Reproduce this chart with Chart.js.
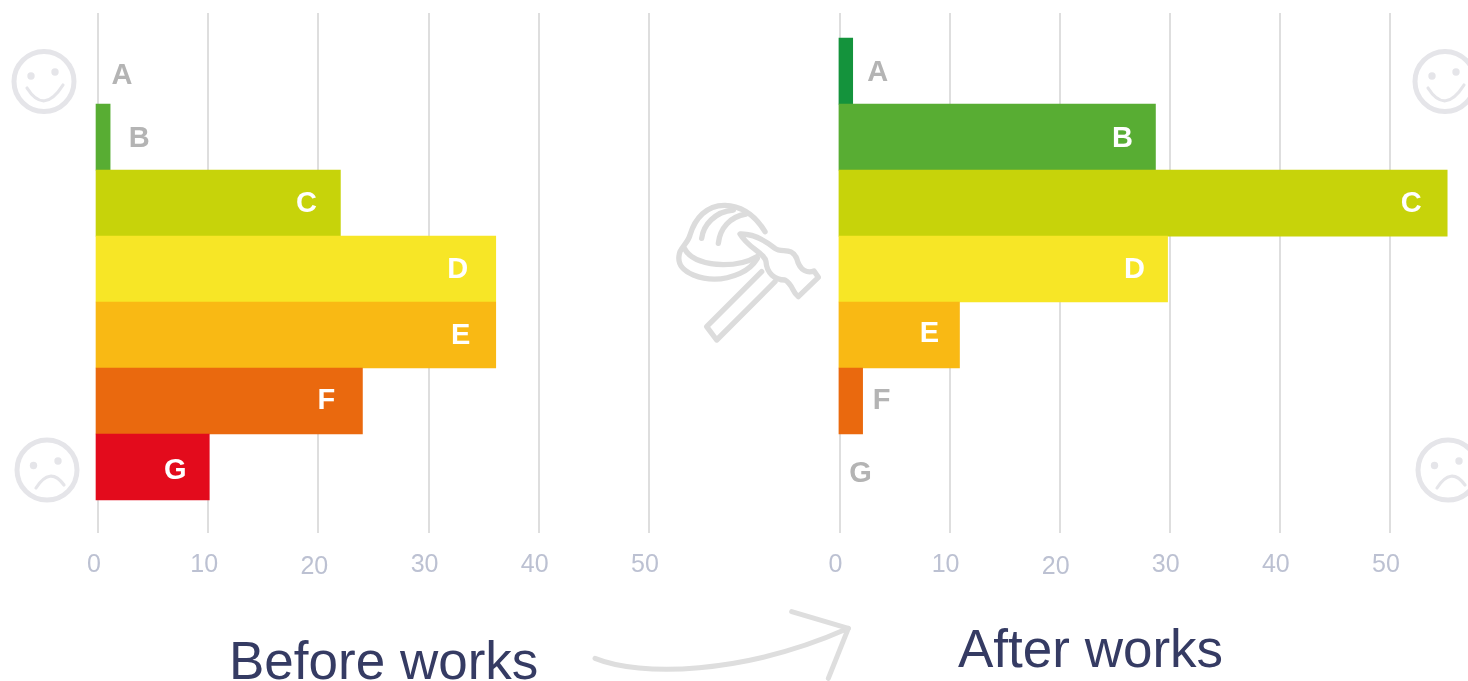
<!DOCTYPE html>
<html>
<head>
<meta charset="utf-8">
<title>Energy rating before and after works</title>
<script src="https://cdn.jsdelivr.net/npm/chart.js@4"></script>
<style>
  html, body { margin: 0; padding: 0; background: #fff; overflow: hidden; }
  body { position: relative; width: 1468px; height: 681px; font-family: "Liberation Sans", Arial, sans-serif; }
  .panel { position: absolute; top: 0; height: 610px; }
  .heading { position: absolute; font-size: 53px; line-height: 60px; color: #353b63; white-space: nowrap; }
  svg { position: absolute; overflow: visible; fill: none; stroke-linecap: round; stroke-linejoin: round; }
</style>
</head>
<body>
<!-- Happy and sad faces beside each scale -->
<svg style="left:0;top:0" width="1468" height="681" stroke="#e5e5e9" stroke-width="5">
  <g>
    <circle cx="44" cy="81.5" r="30"/>
    <circle cx="31" cy="76" r="3.7" fill="#e5e5e9" stroke="none"/>
    <circle cx="55" cy="72" r="3.7" fill="#e5e5e9" stroke="none"/>
    <path d="M27 88 Q44 115 63 85" stroke-width="3.2"/>
  </g>
  <g transform="translate(1401 0)">
    <circle cx="44" cy="81.5" r="30"/>
    <circle cx="31" cy="76" r="3.7" fill="#e5e5e9" stroke="none"/>
    <circle cx="55" cy="72" r="3.7" fill="#e5e5e9" stroke="none"/>
    <path d="M27 88 Q44 115 63 85" stroke-width="3.2"/>
  </g>
  <g>
    <circle cx="47" cy="470" r="30"/>
    <circle cx="33.5" cy="465.5" r="3.7" fill="#e5e5e9" stroke="none"/>
    <circle cx="58" cy="461" r="3.7" fill="#e5e5e9" stroke="none"/>
    <path d="M36 488 Q50 466 64 485" stroke-width="3.2"/>
  </g>
  <g transform="translate(1401 0)">
    <circle cx="47" cy="470" r="30"/>
    <circle cx="33.5" cy="465.5" r="3.7" fill="#e5e5e9" stroke="none"/>
    <circle cx="58" cy="461" r="3.7" fill="#e5e5e9" stroke="none"/>
    <path d="M36 488 Q50 466 64 485" stroke-width="3.2"/>
  </g>
</svg>

<!-- Helmet and hammer between the two panels -->
<svg style="left:660px;top:190px" width="200" height="170" viewBox="0 0 600 510" stroke="#dcdcdc" stroke-width="16">
  <path d="M315 125 C285 75 245 48 195 46 C140 45 105 85 90 135 C85 155 70 165 60 185 C50 215 60 238 100 255 C150 275 200 268 240 250 C262 240 280 225 292 205"/>
  <path d="M75 178 C90 205 130 222 190 224 C230 224 265 215 290 200"/>
  <path d="M125 145 C130 105 165 65 220 60"/>
  <path d="M175 160 C180 115 210 80 258 72"/>
  <path d="M240 132 C285 130 320 155 345 175 C365 190 395 170 410 205 C420 245 445 250 462 243 L475 262 L415 320 C395 305 400 285 375 270 C345 270 320 250 318 215 C315 190 265 175 240 132 Z"/>
  <path d="M305 245 L140 410 L170 450 L345 275"/>
</svg>

<!-- Arrow leading from the first panel to the second -->
<svg style="left:570px;top:590px" width="300" height="91" viewBox="0 0 900 273" stroke="#dedede" stroke-width="15">
  <path d="M75 205 C210 260 520 255 835 115"/>
  <path d="M665 65 L835 115 L775 265"/>
</svg>

<div class="panel" style="left:0;width:715px"><canvas id="beforeChart"></canvas></div>
<div class="panel" style="left:740px;width:716px"><canvas id="afterChart"></canvas></div>

<div class="heading" id="beforeHeading" style="left:229px;top:631px">Before works</div>
<div class="heading" id="afterHeading" style="left:958px;top:619px">After works</div>

<script>
const categories = ["A", "B", "C", "D", "E", "F", "G"];
const tickValues = [0, 10, 20, 30, 40, 50];
const beforeValues = [0, 1.1, 22, 36.1, 36.1, 24, 10.1];
const afterValues = [1.2, 28.7, 55.2, 29.8, 10.9, 2.1, 0];
const ratingColors = ["#14933c", "#58ad33", "#c7d30a", "#f7e626", "#f9b914", "#ea690e", "#e30b1c"];

// Writes each rating letter inside a long bar or just past a short one.
const ratingLetters = {
  id: "ratingLetters",
  afterDatasetsDraw(chart, args, opts) {
    const { ctx } = chart;
    const meta = chart.getDatasetMeta(0);
    ctx.save();
    ctx.font = 'bold 29px "Liberation Sans", Arial, sans-serif';
    ctx.textAlign = "center";
    ctx.textBaseline = "middle";
    meta.data.forEach((bar, i) => {
      const inside = chart.data.datasets[0].data[i].x > opts.insideFrom;
      const nudge = opts.nudges[i];
      ctx.fillStyle = inside ? "#ffffff" : "#b4b4b4";
      ctx.fillText(categories[i], bar.x + (inside ? -34 : 24) + nudge[0], bar.y + nudge[1] + 1);
    });
    ctx.restore();
  }
};

function buildChart(canvasId, values, paddingLeft, baseValue, nudges) {
  return new Chart(document.getElementById(canvasId), {
    type: "bar",
    plugins: [ratingLetters],
    data: {
      datasets: [{
        data: values.map((x, y) => ({ x, y })),
        // An empty rating class has no bar at all, only its letter.
        backgroundColor: ctx => (ctx.raw && ctx.raw.x > 0 ? ratingColors[ctx.dataIndex] : "rgba(0,0,0,0)"),
        borderWidth: 0,
        barPercentage: 1,
        categoryPercentage: 1,
        base: baseValue,
        clip: false
      }]
    },
    options: {
      indexAxis: "y",
      responsive: false,
      animation: false,
      layout: { padding: { left: paddingLeft, top: 13, right: 0, bottom: 0 } },
      plugins: {
        legend: { display: false },
        tooltip: { enabled: false },
        ratingLetters: { insideFrom: 5, nudges }
      },
      scales: {
        y: {
          type: "linear",
          display: false,
          reverse: true,
          offset: false,
          min: -0.88,
          max: 7,
          // One tick per rating class, so the bars fill their rows edge to edge.
          afterBuildTicks(scale) { scale.ticks = categories.map((_, value) => ({ value })); }
        },
        x: {
          type: "linear",
          min: 0,
          max: 56,
          afterBuildTicks(scale) { scale.ticks = tickValues.map(value => ({ value })); },
          afterFit(scale) { scale.height = 77; },
          border: { display: false },
          grid: { color: "#dedede", lineWidth: 2, tickLength: 0, drawTicks: false },
          ticks: {
            color: "#bcc1d2",
            padding: 17,
            labelOffset: -4,
            maxRotation: 0,
            autoSkip: false,
            // The 20 tick sits a little lower than its neighbours.
            font: ctx => ({
              family: '"Liberation Sans", Arial, sans-serif',
              size: 25,
              lineHeight: ctx.tick && ctx.tick.value === 20 ? "34px" : "30px"
            })
          }
        }
      }
    }
  });
}

function sizeCanvas(id, width, height) {
  const canvas = document.getElementById(id);
  canvas.width = width;
  canvas.height = height;
  canvas.style.width = width + "px";
  canvas.style.height = height + "px";
}

sizeCanvas("beforeChart", 715, 610);
sizeCanvas("afterChart", 716, 610);

buildChart("beforeChart", beforeValues, 98, -0.18,
  [[0, 4], [5, 1], [0, 0], [-4, 0], [-1, 0], [-2, -1], [0, 3]]);
buildChart("afterChart", afterValues, 99.5, -0.05,
  [[1, 1], [1, 1], [-2, 0], [1, 0], [4, -2], [-5, -1], [-3, 6]]);
</script>
</body>
</html>
